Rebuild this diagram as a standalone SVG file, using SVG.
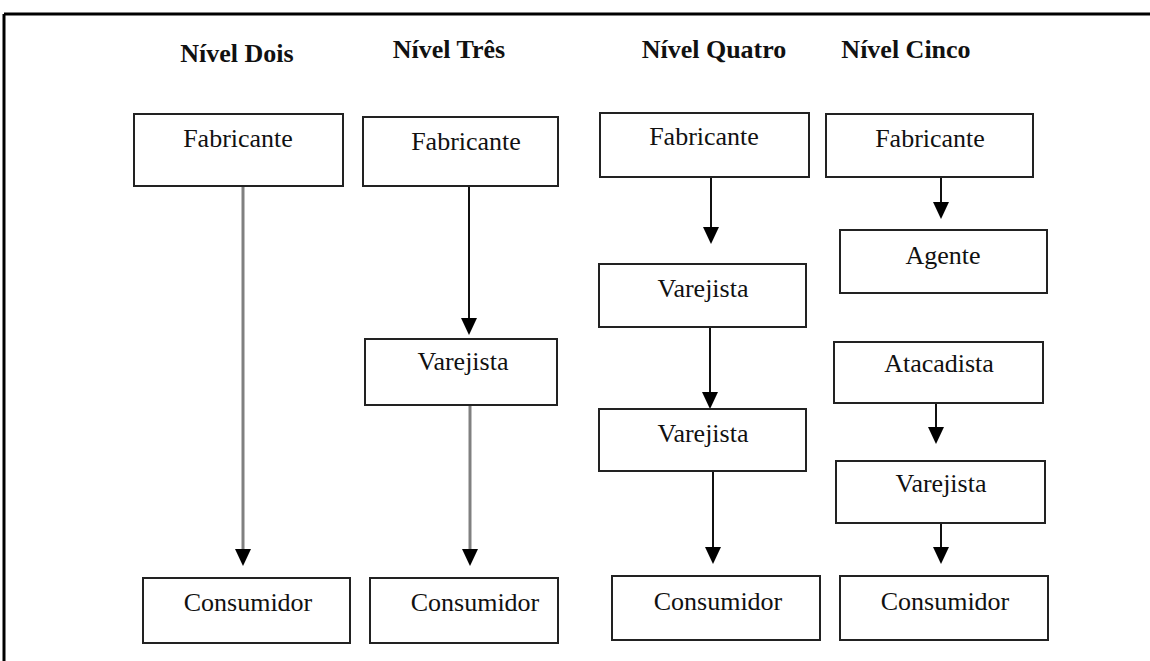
<svg xmlns="http://www.w3.org/2000/svg" width="1150" height="661" viewBox="0 0 1150 661">
<style>
.box{fill:#fff;stroke:#222;stroke-width:2}
.t{font-family:"Liberation Serif","Times New Roman",serif;font-size:26px;fill:#111;text-anchor:middle}
.h{font-family:"Liberation Serif","Times New Roman",serif;font-size:26px;font-weight:bold;fill:#111;text-anchor:middle}
.c{fill:none;stroke:#111;stroke-width:2}
.g{fill:none;stroke:#808080;stroke-width:3}
</style>
<defs>
<marker id="ah" markerUnits="userSpaceOnUse" markerWidth="17" markerHeight="16" refX="7" refY="8" orient="auto" viewBox="0 0 17 16">
<path d="M0,0 L17,8 L0,16 Z" fill="#000"/>
</marker>
</defs>
<rect width="1150" height="661" fill="#fff"/>
<g id="frame">
<line x1="4" y1="14" x2="1150" y2="14" stroke="#000" stroke-width="3"/>
<line x1="4" y1="14" x2="4" y2="661" stroke="#000" stroke-width="3"/>
</g>
<g id="headers">
<text class="h" x="237" y="62">Nível Dois</text>
<text class="h" x="449" y="58">Nível Três</text>
<text class="h" x="714" y="58">Nível Quatro</text>
<text class="h" x="906" y="58">Nível Cinco</text>
</g>
<g id="connectors">
<line class="g" x1="243" y1="186" x2="243" y2="556" marker-end="url(#ah)"/>
<line class="c" x1="469" y1="186" x2="469" y2="325" marker-end="url(#ah)"/>
<line class="g" x1="470" y1="405" x2="470" y2="556" stroke-width="2.5" marker-end="url(#ah)"/>
<line class="c" x1="711" y1="177" x2="711" y2="234" marker-end="url(#ah)"/>
<line class="c" x1="710" y1="327" x2="710" y2="399" marker-end="url(#ah)"/>
<line class="c" x1="713" y1="471" x2="713" y2="554" marker-end="url(#ah)"/>
<line class="c" x1="941" y1="177" x2="941" y2="209" marker-end="url(#ah)"/>
<line class="c" x1="936" y1="403" x2="936" y2="434" marker-end="url(#ah)"/>
<line class="c" x1="941" y1="523" x2="941" y2="554" marker-end="url(#ah)"/>
</g>
<g id="n2-fabricante"><rect class="box" x="134" y="114" width="209" height="72"/><text class="t" x="238" y="147">Fabricante</text></g>
<g id="n2-consumidor"><rect class="box" x="143" y="578" width="207" height="65"/><text class="t" x="248" y="611">Consumidor</text></g>
<g id="n3-fabricante"><rect class="box" x="363" y="117" width="195" height="69"/><text class="t" x="466" y="150">Fabricante</text></g>
<g id="n3-varejista"><rect class="box" x="365" y="339" width="192" height="66"/><text class="t" x="463" y="370">Varejista</text></g>
<g id="n3-consumidor"><rect class="box" x="370" y="578" width="188" height="65"/><text class="t" x="475" y="611">Consumidor</text></g>
<g id="n4-fabricante"><rect class="box" x="600" y="113" width="209" height="64"/><text class="t" x="704" y="145">Fabricante</text></g>
<g id="n4-varejista1"><rect class="box" x="599" y="264" width="207" height="63"/><text class="t" x="703" y="297">Varejista</text></g>
<g id="n4-varejista2"><rect class="box" x="599" y="409" width="207" height="62"/><text class="t" x="703" y="442">Varejista</text></g>
<g id="n4-consumidor"><rect class="box" x="612" y="576" width="208" height="64"/><text class="t" x="718" y="610">Consumidor</text></g>
<g id="n5-fabricante"><rect class="box" x="826" y="114" width="207" height="63"/><text class="t" x="930" y="147">Fabricante</text></g>
<g id="n5-agente"><rect class="box" x="840" y="230" width="207" height="63"/><text class="t" x="943" y="264">Agente</text></g>
<g id="n5-atacadista"><rect class="box" x="834" y="342" width="209" height="61"/><text class="t" x="939" y="372">Atacadista</text></g>
<g id="n5-varejista"><rect class="box" x="836" y="461" width="209" height="62"/><text class="t" x="941" y="492">Varejista</text></g>
<g id="n5-consumidor"><rect class="box" x="840" y="576" width="208" height="64"/><text class="t" x="945" y="610">Consumidor</text></g>
</svg>
